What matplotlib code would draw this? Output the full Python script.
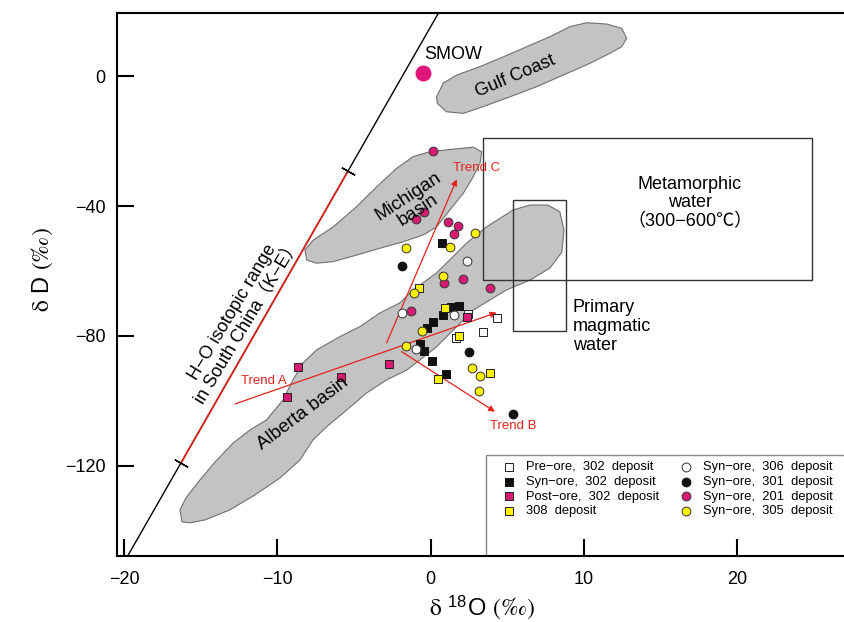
import numpy as np
import matplotlib.pyplot as plt
from matplotlib.patches import Polygon, Rectangle

plt.rcParams["font.family"] = ["Liberation Sans", "Noto Sans CJK SC", "DejaVu Sans"]
plt.rcParams["mathtext.fontset"] = "stix"

RED = "#E3231B"
PINK = "#D81B72"
YELLOW = "#FFF200"

# ---- data (delta 18O, delta D) ----
pre302_o = [2.45, 4.31, 3.43, 1.65]
pre302_d = [-73.3, -74.6, -78.7, -80.5]

syn302_o = [1.30, 1.85, 0.78, 0.17, -0.22, -0.70, -0.42, 0.07, 0.98, 0.76]
syn302_d = [-71.0, -70.8, -73.5, -75.8, -77.4, -82.5, -84.5, -87.6, -91.8, -51.5]

post302_o = [2.35, -2.70, -5.87, -8.68, -9.39]
post302_d = [-74.1, -88.6, -92.7, -89.6, -98.7]

d308_o = [0.93, -0.74, 1.87, 3.87, 0.46]
d308_d = [-71.5, -65.3, -80.0, -91.3, -93.3]

syn306_o = [-1.89, 1.54, -0.96, 2.35]
syn306_d = [-72.8, -73.5, -84.0, -56.8]

syn301_o = [-1.85, 2.50, 5.35]
syn301_d = [-58.4, -84.8, -104.0]

syn201_o = [0.13, -0.44, -0.96, 1.15, 1.80, 1.52, 0.87, 2.09, 3.87, -1.30]
syn201_d = [-23.0, -41.8, -44.0, -44.9, -46.1, -48.6, -63.6, -62.5, -65.3, -72.2]

syn305_o = [2.89, 1.26, -1.61, 0.82, -1.09, -0.59, -1.61, 2.71, 3.22, 3.17]
syn305_d = [-48.4, -52.5, -53.0, -61.4, -66.9, -78.4, -83.0, -89.8, -92.2, -96.9]

smow_o, smow_d = -0.5, 0.8

# meteoric water line and the South China segment
mwl_o = [-19.8, 0.5]
mwl_d = [-148.0, 19.3]
sc_o = [-16.3, -5.4]
sc_d = [-119.2, -29.3]

# field outlines
gulf_o = [0.39, 0.82, 1.70, 3.22, 4.74, 6.26, 7.78, 9.09, 10.18, 11.48, 12.46,
          12.79, 12.46, 11.70, 10.39, 8.65, 6.91, 5.17, 3.43, 2.13, 1.04, 0.43]
gulf_d = [-6.4, -2.2, 0.3, 2.9, 5.9, 9.0, 12.1, 15.2, 16.4, 16.0, 14.7,
          11.6, 9.0, 7.0, 3.9, 0.3, -3.3, -6.4, -9.4, -11.5, -11.0, -8.4]

mich_o = [-8.20, -7.66, -6.35, -4.83, -3.52, -2.22, -1.14, -0.05, 1.47, 2.78, 3.33,
          3.22, 2.78, 2.13, 1.26, 0.39, -0.48, -1.79, -3.31, -4.83, -6.35, -7.44, -8.09]
mich_d = [-53.5, -50.5, -46.4, -40.2, -34.1, -28.4, -24.8, -23.3, -22.5, -21.9, -23.3,
          -26.9, -31.0, -36.1, -41.2, -46.4, -48.9, -51.0, -53.0, -55.1, -57.1, -57.6, -56.6]

alb_o = [-16.22, -16.35, -15.96, -15.05, -14.07, -12.90, -11.78, -10.70, -9.63, -8.98,
         -8.33, -7.44, -5.92, -4.61, -3.31, -2.00, -1.14, 0.39, 2.35, 3.65, 5.39, 6.48,
         7.65, 8.43, 8.70, 8.56, 7.78, 6.48, 4.96, 2.78, 1.47, 0.39, -0.70, -1.57, -2.87,
         -4.17, -5.48, -6.78, -7.68, -8.53, -9.83, -11.46, -13.09, -14.72, -15.69]
alb_d = [-137.2, -133.5, -129.8, -124.3, -118.8, -113.0, -108.9, -105.8, -99.7, -93.5,
         -88.3, -84.3, -80.2, -77.1, -72.9, -69.8, -65.8, -60.6, -51.4, -46.4, -41.2, -39.7,
         -39.7, -41.8, -47.4, -54.2, -59.1, -62.8, -65.8, -72.0, -78.2, -83.3, -87.4, -90.5, -93.5,
         -97.5, -102.8, -107.9, -112.0, -118.2, -123.7, -128.9, -133.5, -136.6, -137.5]

# boxes: (o_min, o_max, d_min, d_max)
meta_box = [3.4, 24.9, -62.8, -19.0]
magm_box = [5.4, 8.8, -78.5, -38.2]

# trends: start -> end
trend_a = [(-12.75, -100.9), (4.3, -72.8)]
trend_b = [(-1.9, -84.8), (4.2, -103.3)]
trend_c = [(-2.87, -82.1), (1.7, -31.8)]

# ---- figure ----
fig = plt.figure(figsize=(8.45, 6.22), dpi=100)
ax = fig.add_axes([116.7 / 845, 1 - 556 / 622, 1 - 116.7 / 845, (556 - 13.3) / 622])
ax.set_xlim(-20.48, 27.03)
ax.set_ylim(-147.7, 19.3)

for xs, ys in [(gulf_o, gulf_d), (mich_o, mich_d), (alb_o, alb_d)]:
    ax.add_patch(Polygon(np.column_stack([xs, ys]), closed=True, facecolor="#C3C3C3",
                         edgecolor="#707070", lw=0.8, zorder=1))

for b in [meta_box, magm_box]:
    ax.add_patch(Rectangle((b[0], b[2]), b[1] - b[0], b[3] - b[2], fill=False,
                           edgecolor="#333333", lw=1.0, zorder=2))

# legend frame reaching the axis
ax.add_patch(Rectangle((3.62, -150), 30, 150 - 116.6, facecolor="white",
                       edgecolor="#888888", lw=1.0, zorder=1.5))

ax.plot(mwl_o, mwl_d, color="black", lw=1.0, zorder=3)
ax.plot(sc_o, sc_d, color=RED, lw=1.2, zorder=3)
ax.plot(sc_o, sc_d, ls="none", marker=(2, 2, 60.4), ms=11, mew=1.0, color="black", zorder=3)

for (s, e) in [trend_a, trend_b, trend_c]:
    ax.annotate("", xy=e, xytext=s,
                arrowprops=dict(arrowstyle="-|>", color=RED, lw=0.9,
                                mutation_scale=9, shrinkA=0, shrinkB=0), zorder=3)

sq, ci = 30, 40
h1 = ax.scatter(pre302_o, pre302_d, s=sq, marker="s", facecolor="white", edgecolor="#222", lw=0.7, zorder=4,
                label="Pre−ore,  302  deposit")
h2 = ax.scatter(syn302_o, syn302_d, s=sq, marker="s", facecolor="#111", edgecolor="#111", lw=0.7, zorder=4,
                label="Syn−ore,  302  deposit")
h3 = ax.scatter(post302_o, post302_d, s=sq, marker="s", facecolor=PINK, edgecolor="#222", lw=0.7, zorder=4,
                label="Post−ore,  302  deposit")
h4 = ax.scatter(d308_o, d308_d, s=sq, marker="s", facecolor=YELLOW, edgecolor="#222", lw=0.7, zorder=4,
                label="308  deposit")
h5 = ax.scatter(syn306_o, syn306_d, s=ci, marker="o", facecolor="white", edgecolor="#333", lw=0.7, zorder=4,
                label="Syn−ore,  306  deposit")
h6 = ax.scatter(syn301_o, syn301_d, s=ci, marker="o", facecolor="#111", edgecolor="#111", lw=0.7, zorder=4,
                label="Syn−ore,  301  deposit")
h7 = ax.scatter(syn201_o, syn201_d, s=ci, marker="o", facecolor=PINK, edgecolor="#333", lw=0.7, zorder=4,
                label="Syn−ore,  201  deposit")
h8 = ax.scatter(syn305_o, syn305_d, s=ci, marker="o", facecolor=YELLOW, edgecolor="#333", lw=0.7, zorder=4,
                label="Syn−ore,  305  deposit")
ax.scatter([smow_o], [smow_d], s=110, color="#E0157A", zorder=4)

ax.legend(handles=[h1, h2, h3, h4, h5, h6, h7, h8], ncol=2, frameon=False, fontsize=9.3,
          loc="upper left", bbox_to_anchor=(0.5296, 0.1745), borderpad=0, borderaxespad=0,
          handlelength=1.0, handletextpad=0.85, columnspacing=1.55, labelspacing=0.2,
          scatterpoints=1)

# labels
ax.text(1.47, 6.5, "SMOW", fontsize=13, ha="center", va="center", zorder=5)
ax.text(5.54, 0.0, "Gulf Coast", fontsize=13, rotation=23, ha="center", va="center",
        rotation_mode="anchor", zorder=5)
ax.text(-1.13, -39.2, "Michigan\nbasin", fontsize=13.5, rotation=33, ha="center", va="center",
        rotation_mode="anchor", linespacing=1.0, zorder=5)
ax.text(-8.3, -103.8, "Alberta basin", fontsize=13.5, rotation=37, ha="center", va="center",
        rotation_mode="anchor", zorder=5)
ax.text(-12.4, -74.2, "H−O isotopic range\nin South China（K−E）", fontsize=13, rotation=59,
        ha="center", va="center", rotation_mode="anchor", linespacing=1.1, zorder=5)
ax.text(16.9, -39.1, "Metamorphic\nwater\n（300−600℃）", fontsize=13, ha="center", va="center",
        linespacing=1.15, zorder=5)
ax.text(9.28, -77.2, "Primary\nmagmatic\nwater", fontsize=13, ha="left", va="center",
        linespacing=1.15, zorder=5)
ax.text(-10.9, -93.8, "Trend A", fontsize=9.5, color=RED, ha="center", va="center", zorder=5)
ax.text(5.37, -107.6, "Trend B", fontsize=9.5, color=RED, ha="center", va="center", zorder=5)
ax.text(3.0, -28.2, "Trend C", fontsize=9.5, color=RED, ha="center", va="center", zorder=5)

ax.set_xticks([-20, -10, 0, 10, 20])
ax.set_yticks([-120, -80, -40, 0])
ax.tick_params(direction="in", length=12, width=1.5, labelsize=13)
ax.tick_params(axis="x", pad=11)
ax.tick_params(axis="y", pad=8)
for side in ["left", "bottom", "top"]:
    ax.spines[side].set_linewidth(1.5)
ax.spines["right"].set_visible(False)

fig.text(481.7 / 845, 1 - 608 / 622, r"$\mathrm{\delta}$ $^{\mathregular{18}}$O $\mathrm{(‰)}$",
         fontsize=17, ha="center", va="center")
fig.text(42 / 845, 1 - 270 / 622, r"$\mathrm{\delta}$ D $\mathrm{(‰)}$", fontsize=17, rotation=90,
         ha="center", va="center")

fig.savefig("out.png", dpi=100)
